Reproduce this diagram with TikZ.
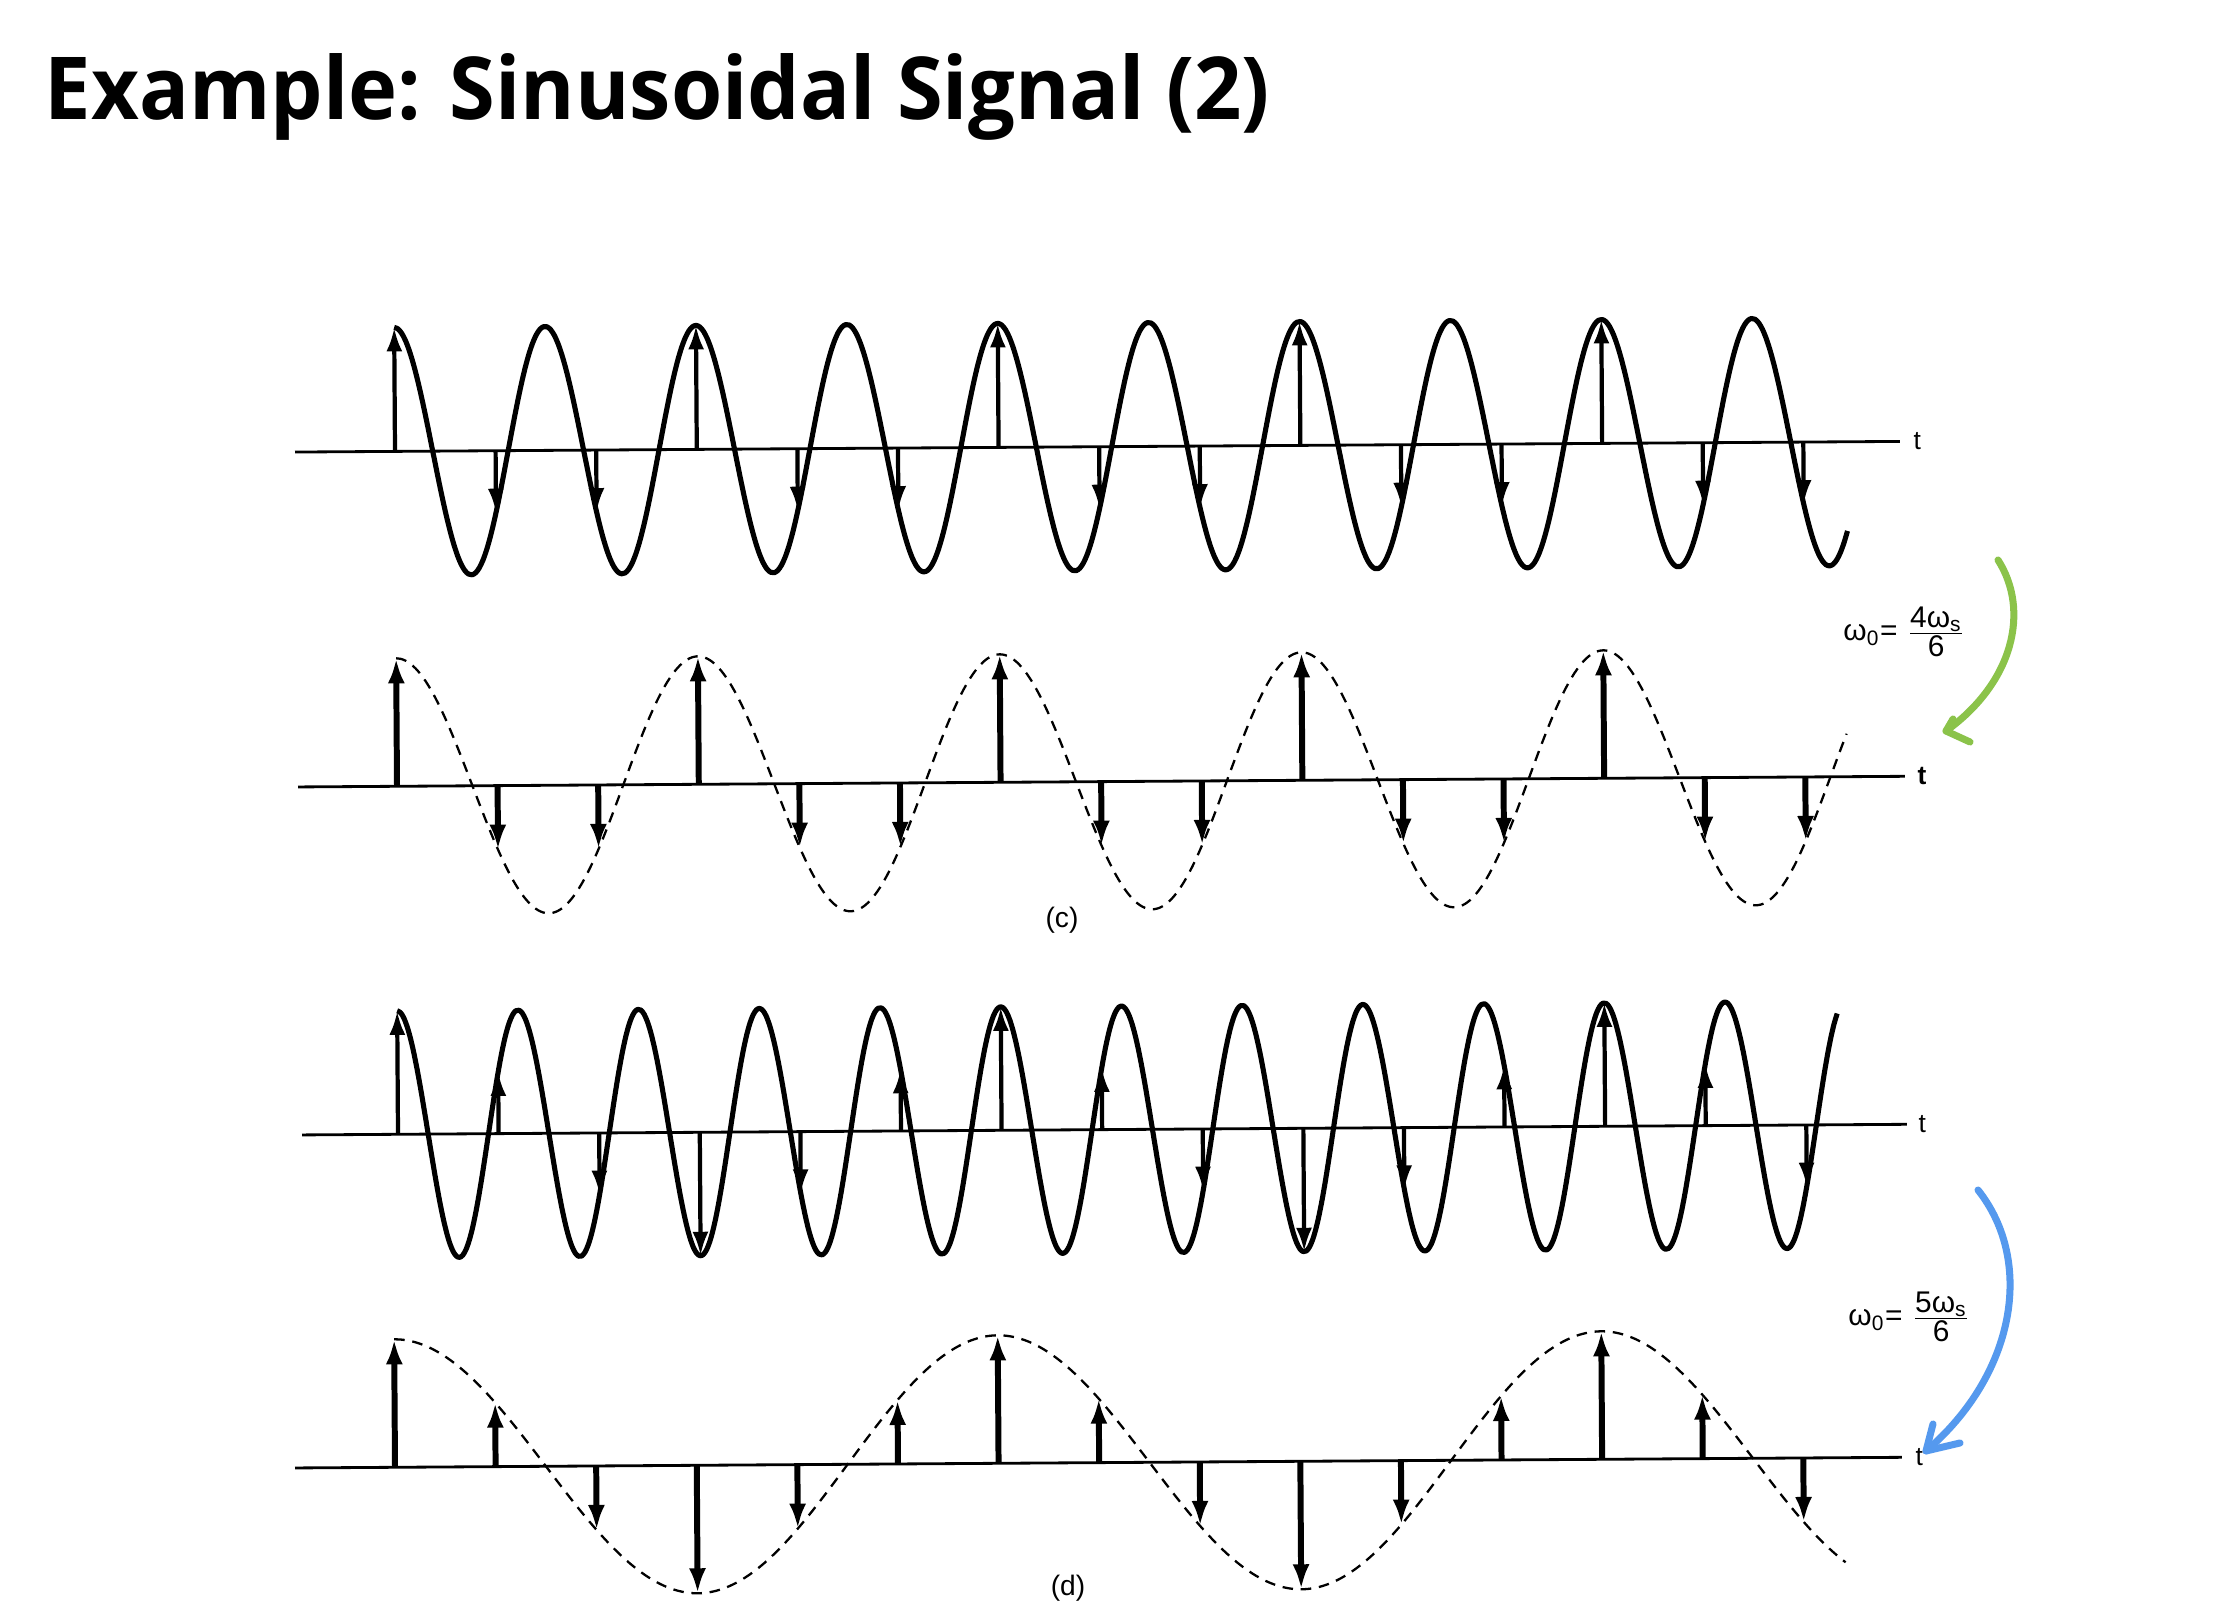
\documentclass[tikz,border=0pt]{standalone}
\usepackage{fontspec}
\usetikzlibrary{arrows.meta}
\newfontfamily\titlefont{Open Sans}
\newfontfamily\lblfont{Liberation Sans}
\definecolor{arrgreen}{HTML}{8BC34A}
\definecolor{arrblue}{HTML}{5599EE}
\begin{document}
\begin{tikzpicture}[x=0.01cm,y=-0.01cm,
  axisline/.style={line width=0.8pt},
  solidwave/.style={line width=1.45pt, line join=round},
  dashwave/.style={line width=0.65pt, dash pattern=on 3pt off 2.2pt},
  stemthin/.style={line width=1.2pt, -{Latex[length=0.24cm,width=0.16cm]}},
  stemthick/.style={line width=1.7pt, -{Latex[length=0.25cm,width=0.17cm]}},
  tlabel/.style={font=\lblfont\fontsize{7.5}{9}\selectfont, inner sep=0, anchor=west},
  wlabel/.style={font=\lblfont\fontsize{8.5}{10}\selectfont, inner sep=1pt},
  panellabel/.style={font=\lblfont\fontsize{8}{10}\selectfont, inner sep=0},
  hand/.style={line width=2pt, line cap=round, line join=round}
]
\useasboundingbox (0,0) rectangle (2238,1622);
\fill[white] (0,0) rectangle (2238,1622);

% title
\node[anchor=base west, inner sep=0] (title) at (44,120)
  {\scalebox{0.955}[1]{\titlefont\bfseries\fontsize{24.7}{30}\selectfont Example: Sinusoidal Signal (2)}};

% panel 1: continuous, omega0 = 4ws/6
\begin{scope}[shift={(395,451.4)}, rotate=0.38]
  \draw[axisline] (-100,0) -- (1505,0);
  \node[tlabel] (t1) at (1518,0) {t};
  \draw[solidwave, domain=0:1452, samples=400, smooth] plot (\x, {-124*cos(2.38569*\x)});
  \foreach \n in {0,...,14} \draw[stemthin] (\n*100.6,0) -- (\n*100.6, {-124*cos(240*\n)});
\end{scope}

% panel 2: sampled, dashed envelope
\begin{scope}[shift={(397,786.3)}, rotate=0.38]
  \draw[axisline] (-99,0) -- (1508,0);
  \node[tlabel] (t2) at (1520,0) {\bfseries t};
  \draw[dashwave, domain=0:1450, samples=300, smooth] plot (\x, {-128*cos(1.19284*\x)});
  \foreach \n in {0,...,14} \draw[stemthick] (\n*100.6,0) -- (\n*100.6, {-128*cos(120*\n)});
\end{scope}
\node[panellabel] (lc) at (1062,920) {(c)};

% panel 3: continuous, omega0 = 5ws/6
\begin{scope}[shift={(398,1134.3)}, rotate=0.38]
  \draw[axisline] (-96,0) -- (1509,0);
  \node[tlabel] (t3) at (1520,0) {t};
  \draw[solidwave, domain=0:1440, samples=450, smooth] plot (\x, {-123.5*cos(2.98211*\x)});
  \foreach \n in {0,...,14} \draw[stemthin] (\n*100.6,0) -- (\n*100.6, {-123.5*cos(300*\n)});
\end{scope}

% panel 4: sampled, dashed envelope
\begin{scope}[shift={(395,1467.3)}, rotate=0.38]
  \draw[axisline] (-100,0) -- (1507,0);
  \node[tlabel] (t4) at (1520,0) {t};
  \draw[dashwave, domain=0:1450, samples=300, smooth] plot (\x, {-128*cos(0.59642*\x)});
  \foreach \n in {0,...,14} \draw[stemthick] (\n*100.6,0) -- (\n*100.6, {-128*cos(60*\n)});
\end{scope}
\node[panellabel] (ld) at (1068,1588) {(d)};

% frequency labels
\node[wlabel] (w1) at (1905,632) {ω\textsubscript{0}= $\frac{\mbox{4ω\textsubscript{s}}}{\mbox{6}}$};
\node[wlabel] (w2) at (1910,1317) {ω\textsubscript{0}= $\frac{\mbox{5ω\textsubscript{s}}}{\mbox{6}}$};

% hand-drawn arrows
\coordinate (g0) at (1998,560);
\coordinate (gtip) at (1946,731);
\coordinate (ga1) at (1953,719);
\coordinate (ga2) at (1970,742);
\draw[hand, arrgreen] (g0) .. controls (2030,610) and (2014,682) .. (gtip);
\draw[hand, arrgreen] (ga1) -- (gtip) -- (ga2);

\coordinate (b0) at (1978,1190);
\coordinate (btip) at (1926,1451);
\coordinate (ba1) at (1933,1424);
\coordinate (ba2) at (1960,1443);
\draw[hand, arrblue] (b0) .. controls (2035,1262) and (2015,1375) .. (btip);
\draw[hand, arrblue] (ba1) -- (btip) -- (ba2);
\end{tikzpicture}
\end{document}
